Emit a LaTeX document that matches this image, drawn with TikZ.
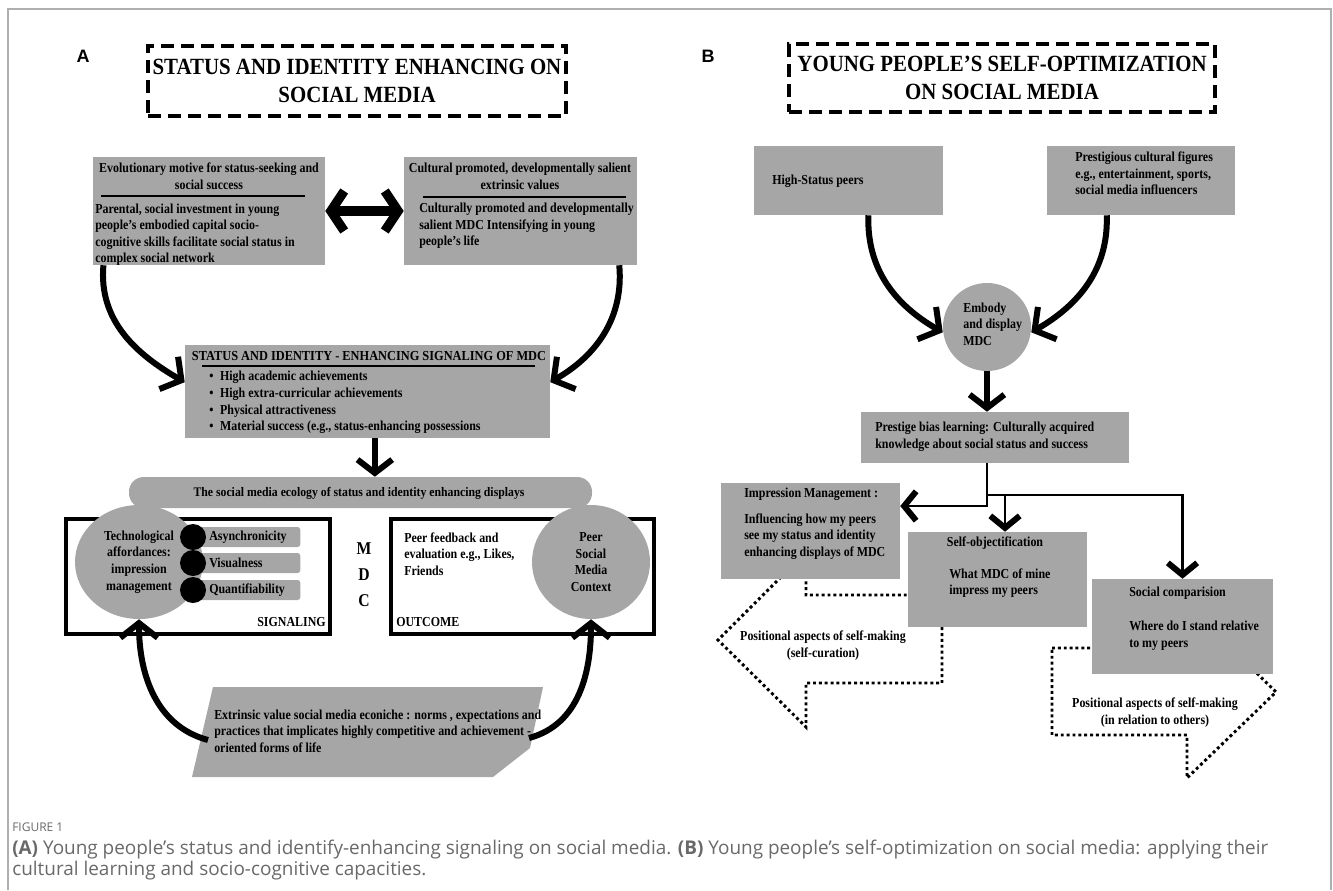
\documentclass[tikz,border=0pt]{standalone}
\usepackage{fontspec}
\setmainfont{Liberation Serif}[FakeStretch=0.87]
\newfontfamily\titlefont{Liberation Serif}[FakeStretch=0.9]
\newfontfamily\labelfont{Liberation Sans}
\newfontfamily\capfont{Open Sans}
\usetikzlibrary{arrows.meta,fit,shapes.geometric,positioning}
\definecolor{boxgrey}{RGB}{166,166,166}
\definecolor{capgrey}{RGB}{105,105,105}
\definecolor{framegrey}{RGB}{175,175,175}
\newcommand{\bodysize}{\bfseries\fontsize{10.3}{12.4}\selectfont}
\tikzset{
  greybox/.style={fill=boxgrey, inner sep=0pt},
  boxtext/.style={font=\bodysize, inner sep=0pt, align=left},
  titlebox/.style={draw, line width=2.6pt, dash pattern=on 10pt off 5pt, inner sep=0pt},
  titletext/.style={font=\titlefont\bfseries\fontsize{17.4}{21}\selectfont, align=center, inner sep=0pt},
  panellabel/.style={font=\labelfont\bfseries\fontsize{13.5}{16}\selectfont, inner sep=0pt},
  headrule/.style={line width=2.2pt},
  sideframe/.style={draw, line width=2.4pt, inner sep=0pt},
  bigcurve/.style={line width=4.5pt, -{Straight Barb[length=11pt,width=28pt]}},
  downarrow/.style={line width=4.5pt, -{Straight Barb[length=10pt,width=26pt]}},
  dblarrow/.style={line width=7pt, {Straight Barb[length=10pt,width=30pt]}-{Straight Barb[length=10pt,width=30pt]}},
  thinarrow/.style={line width=2.2pt, -{Straight Barb[length=9pt,width=22pt,line width=4.5pt]}},
  dotline/.style={line width=2.2pt, dash pattern=on 2.2pt off 2.2pt},
  captext/.style={font=\capfont\fontsize{14.2}{15.75}\selectfont, text=capgrey, inner sep=0pt, align=left},
}
\begin{document}
\begin{tikzpicture}[x=0.75pt, y=0.75pt]
\useasboundingbox (0,0) rectangle (1333,-890);
\draw[framegrey, line width=1.5pt] (8,-890) -- (8,-9) -- (1331,-9) -- (1331,-890);

% ---------- panel A
\node[panellabel] (labA) at (83,-56) {A};
\node[titlebox, fit={(148,-46) (566,-116)}] (titleA) {};
\node[titletext] (titleAtxt) at (titleA.center) {STATUS AND IDENTITY ENHANCING ON\\SOCIAL MEDIA};

\node[greybox, fit={(93,-157) (325,-265)}] (evol) {};
\node[boxtext, align=center] (evolhead) at (209,-176.5) {Evolutionary motive for status-seeking and\\social success};
\draw[headrule] (101,-196) -- (305,-196);
\node[boxtext, anchor=west] (evolbody) at (95,-234.5) {Parental, social investment in young\\people’s embodied capital socio-\\cognitive skills facilitate social status in\\complex social network};

\node[greybox, fit={(404,-157) (637,-265)}] (cult) {};
\node[boxtext, align=center] (culthead) at (520,-176.5) {Cultural promoted, developmentally salient\\extrinsic values};
\draw[headrule] (423,-197) -- (626,-197);
\node[boxtext, anchor=west] (cultbody) at (419,-226) {Culturally promoted and developmentally\\salient MDC Intensifying in young\\people’s life};

\draw[dblarrow] (evol) -- (cult);

\node[greybox, fit={(185,-345) (550,-438)}] (signal) {};
\node[boxtext, font=\titlefont\bfseries\fontsize{10.3}{12.4}\selectfont] (signalhead) at (369,-356) {STATUS AND IDENTITY - ENHANCING SIGNALING OF MDC};
\draw[headrule] (202,-366) -- (535,-366);
\node[boxtext, anchor=west] (signallist) at (209,-402.5) {\textbullet\hspace{5pt}High academic achievements\\\textbullet\hspace{5pt}High extra-curricular achievements\\\textbullet\hspace{5pt}Physical attractiveness\\\textbullet\hspace{5pt}Material success (e.g., status-enhancing possessions};

\coordinate (evolout) at ([xshift=8pt]evol.south west);
\coordinate (cultout) at ([xshift=-13.5pt]cult.south east);
\draw[bigcurve] (evolout) to[out=-95,in=150] ([yshift=7pt]signal.west);
\draw[bigcurve] (cultout) to[out=-85,in=30] ([yshift=7pt]signal.east);

\node[greybox, rounded corners=11pt, fit={(129,-477) (592,-508)}] (ecology) {};
\node[boxtext, font=\titlefont\bfseries\fontsize{9.8}{12}\selectfont] (ecologytxt) at (359,-493) {The social media ecology of status and identity enhancing displays};
\coordinate (sigout) at ([xshift=5.5pt]signal.south);
\draw[downarrow] (sigout) -- (sigout |- ecology.north);

\node[sideframe, fit={(66,-519) (330,-634)}] (sigframe) {};
\node[sideframe, fit={(391,-519) (654,-634)}] (outframe) {};

\node[ellipse, greybox, minimum width=96pt, minimum height=85.5pt, font=\bodysize, align=center] (techaff) at (139,-562) {Technological\\affordances:\\impression\\management};
\foreach \name/\lab/\y in {async/Asynchronicity/537, visual/Visualness/563, quant/Quantifiability/590} {
  \node[greybox, rounded corners=2pt, minimum width=76.5pt, minimum height=15pt, anchor=west] (\name) at (198,-\y) {};
  \node[boxtext, anchor=west] (\name-t) at (209,-\y) {\lab};
  \node[circle, fill=black, minimum size=19.5pt, inner sep=0pt] (\name-d) at (193,-\y) {};
}
\node[boxtext, anchor=east] (siglab) at (326,-622) {SIGNALING};
\node[font=\bfseries\fontsize{13.5}{19.5}\selectfont, align=center, inner sep=0pt] (mdc) at (364,-575) {M\\D\\C};

\node[ellipse, greybox, minimum width=88.5pt, minimum height=85.5pt, font=\bodysize, align=center] (peerctx) at (591,-562) {Peer\\Social\\Media\\Context};
\node[boxtext, anchor=west] (feedback) at (404,-554) {Peer feedback and\\evaluation e.g., Likes,\\Friends};
\node[boxtext, anchor=west] (outlab) at (396,-622) {OUTCOME};

\fill[boxgrey] (213,-687) -- (543,-687) -- (530,-748) -- (493,-777) -- (192,-777) -- cycle;
\node[boxtext, anchor=west] (niche) at (214,-731) {Extrinsic value social media econiche : norms , expectations and\\practices that implicates highly competitive and achievement -\\oriented forms of life};
\coordinate (nicheL) at (208,-740);
\coordinate (nicheR) at (529,-738);
\draw[bigcurve] (nicheL) to[out=165,in=-90] (techaff.south);
\draw[bigcurve] (nicheR) to[out=15,in=-90] (peerctx.south);

% ---------- panel B
\node[panellabel] (labB) at (708,-56) {B};
\node[titlebox, fit={(789,-44) (1215,-112)}] (titleB) {};
\node[titletext] (titleBtxt) at (titleB.center) {YOUNG PEOPLE’S SELF-OPTIMIZATION\\ON SOCIAL MEDIA};

\node[greybox, fit={(754,-146) (943,-215)}] (hipeers) {};
\node[boxtext, anchor=west] (hipeerstxt) at (772,-181) {High-Status peers};
\node[greybox, fit={(1047,-146) (1235,-215)}] (figures) {};
\node[boxtext, anchor=west] (figurestxt) at (1075,-173.5) {Prestigious cultural figures\\e.g., entertainment, sports,\\social media influencers};

\node[circle, greybox, minimum size=66pt] (embody) at (987,-327) {};
\node[boxtext, anchor=west] (embodytxt) at (963,-324) {Embody\\and display\\MDC};
\coordinate (hipeersout) at ([xshift=86pt]hipeers.south west);
\coordinate (figuresout) at ([xshift=45pt]figures.south west);
\draw[bigcurve] (hipeersout) to[out=-92,in=150] ([yshift=-4pt]embody.west);
\draw[bigcurve] (figuresout) to[out=-88,in=30] ([yshift=-4pt]embody.east);

\node[greybox, fit={(861,-412) (1129,-463)}] (prestige) {};
\node[boxtext, anchor=west] (prestigetxt) at (875,-436.5) {Prestige bias learning: Culturally acquired\\knowledge about social status and success};
\draw[downarrow] (embody.south) -- (embody.south |- prestige.north);

% dotted block arrows sit behind the boxes
\draw[dotline] (806,-552) -- (806,-595) -- (942,-595) -- (942,-683) -- (806,-683) -- (806,-727) -- (718,-640) -- cycle;
\draw[dotline] (1052,-648) -- (1187,-648) -- (1187,-605) -- (1276,-692) -- (1187,-778) -- (1187,-735) -- (1052,-735) -- cycle;
\node[boxtext, align=center] (selfcur) at (823,-645.5) {Positional aspects of self-making\\(self-curation)};
\node[boxtext, align=center] (relothers) at (1155,-712.5) {Positional aspects of self-making\\(in relation to others)};

\node[greybox, fit={(721,-483) (900,-579)}] (impress) {};
\node[boxtext, anchor=west] (impresshead) at (744,-494) {Impression Management :};
\node[boxtext, anchor=west] (impressbody) at (744,-536.5) {Influencing how my peers\\see my status and identity\\enhancing displays of MDC};

\node[greybox, fit={(908,-532) (1087,-627)}] (selfobj) {};
\node[boxtext] (selfobjhead) at (995,-543) {Self-objectification};
\node[boxtext, anchor=west] (selfobjbody) at (949,-583) {What MDC of mine\\impress my peers};

\node[greybox, fit={(1092,-579) (1273,-674)}] (social) {};
\node[boxtext, anchor=west] (socialhead) at (1129,-593) {Social comparision};
\node[boxtext, anchor=west] (socialbody) at (1129,-635.5) {Where do I stand relative\\to my peers};

\coordinate (split) at (prestige.south -| embody.south);
\coordinate (turnL) at (987,-506);
\coordinate (turnR) at (987,-495);
\coordinate (selfin) at (1005,-495);
\draw[thinarrow] (split) -- (turnL) -- (turnL -| impress.east);
\draw[thinarrow] (turnR) -- (turnR -| social.north) -- (social.north);
\draw[thinarrow] (selfin) -- (selfin |- selfobj.north);

% ---------- caption
\node[captext, font=\capfont\fontsize{9}{10}\selectfont, anchor=west] (figno) at (12,-827) {FIGURE 1};
\node[captext, anchor=north west] (caption) at (12,-840) {\textbf{(A)} Young people’s status and identify-enhancing signaling on social media. \textbf{(B)} Young people’s self-optimization on social media: applying their\\cultural learning and socio-cognitive capacities.};
\end{tikzpicture}
\end{document}
